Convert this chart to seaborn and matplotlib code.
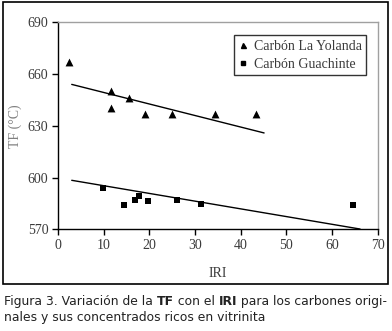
import matplotlib
matplotlib.use("Agg")
import matplotlib.pyplot as plt
from matplotlib.patches import Rectangle
from matplotlib.lines import Line2D
import pandas as pd
import seaborn as sns

# === DATA ===
yolanda_iri = [2.4, 11.7, 11.7, 15.5, 19.1, 25.0, 34.4, 43.4]
yolanda_tf = [667, 650, 640.5, 646, 636.5, 636.5, 636.5, 636.5]
guachinte_iri = [9.9, 14.4, 16.8, 17.8, 19.8, 26.0, 31.3, 64.6]
guachinte_tf = [594, 584.3, 586.8, 589.1, 586.2, 586.8, 584.9, 584.3]

# trend lines (end points)
yolanda_trend_iri = [3.0, 45.1]
yolanda_trend_tf = [653.9, 625.8]
guachinte_trend_iri = [3.0, 66.1]
guachinte_trend_tf = [598.4, 570.2]

series_names = ["Carbón La Yolanda", "Carbón Guachinte"]
x_ticks = [0, 10, 20, 30, 40, 50, 60, 70]
y_ticks = [570, 600, 630, 660, 690]

df = pd.concat([
    pd.DataFrame({"IRI": yolanda_iri, "TF": yolanda_tf, "serie": series_names[0]}),
    pd.DataFrame({"IRI": guachinte_iri, "TF": guachinte_tf, "serie": series_names[1]}),
], ignore_index=True)

# === PLOT ===
sns.set_style("white")
plt.rcParams["font.family"] = ["Liberation Serif", "DejaVu Serif"]

fig = plt.figure(figsize=(3.92, 3.31), dpi=100)
ax = fig.add_axes([0.148, 0.307, 0.816, 0.6265])

text_col = "#3a3a3a"
sizes = {series_names[0]: 32, series_names[1]: 24}
for name, mk in zip(series_names, ["^", "s"]):
    sub = df[df["serie"] == name]
    sns.scatterplot(data=sub, x="IRI", y="TF", marker=mk, color="black",
                    s=sizes[name], linewidth=0, ax=ax, legend=False, zorder=3)

sns.lineplot(x=yolanda_trend_iri, y=yolanda_trend_tf, color="black", lw=1.0, ax=ax, legend=False)
sns.lineplot(x=guachinte_trend_iri, y=guachinte_trend_tf, color="black", lw=1.0, ax=ax, legend=False)

ax.set_xlim(0, 70)
ax.set_ylim(570, 690)
ax.set_xticks(x_ticks)
ax.set_yticks(y_ticks)
ax.tick_params(axis="both", direction="out", length=4, width=1, color="black",
               labelsize=10, labelcolor=text_col, pad=3)
ax.tick_params(axis="x", bottom=True)
ax.tick_params(axis="y", left=True)
for side in ["left", "bottom"]:
    ax.spines[side].set_color("black")
    ax.spines[side].set_linewidth(1.0)
for side in ["top", "right"]:
    ax.spines[side].set_color("#a0a0a0")
    ax.spines[side].set_linewidth(1.0)

ax.set_xlabel("IRI", fontsize=10, color=text_col, labelpad=11)
ax.set_ylabel("TF (°C)", fontsize=10, color="#808080", labelpad=4)

handles = [
    Line2D([], [], marker="^", color="black", ls="none", markersize=3.6),
    Line2D([], [], marker="s", color="black", ls="none", markersize=3.2),
]
leg = ax.legend(handles, series_names, loc="upper right", bbox_to_anchor=(0.963, 0.935),
                fontsize=10, frameon=True, fancybox=False, handlelength=0.6,
                handletextpad=0.5, borderpad=0.3, labelspacing=0.4, borderaxespad=0)
leg.get_frame().set_edgecolor("black")
leg.get_frame().set_linewidth(1.0)
for t in leg.get_texts():
    t.set_color(text_col)

# outer frame of the chart
fig.add_artist(Rectangle((0.0077, 0.142), 0.982, 0.852, transform=fig.transFigure,
                         fill=False, edgecolor="black", lw=1.2))

# caption with bold words
cap_font = ["DejaVu Sans"]
lines = [
    [("Figura 3. Variación de la ", "normal"), ("TF", "bold"), (" con el ", "normal"),
     ("IRI", "bold"), (" para los carbones origi-", "normal")],
    [("nales y sus concentrados ricos en vitrinita", "normal")],
]
fig.canvas.draw()
renderer = fig.canvas.get_renderer()
y_pos = [1 - 301.5 / 331, 1 - 317.5 / 331]
for parts, yy in zip(lines, y_pos):
    x0 = 4 / 392
    for txt, wt in parts:
        t = fig.text(x0, yy, txt, fontsize=8.9, family=cap_font, weight=wt,
                     color="#222222", va="center", ha="left")
        bb = t.get_window_extent(renderer=renderer)
        x0 += bb.width / fig.bbox.width

fig.savefig("out.png", dpi=100)
